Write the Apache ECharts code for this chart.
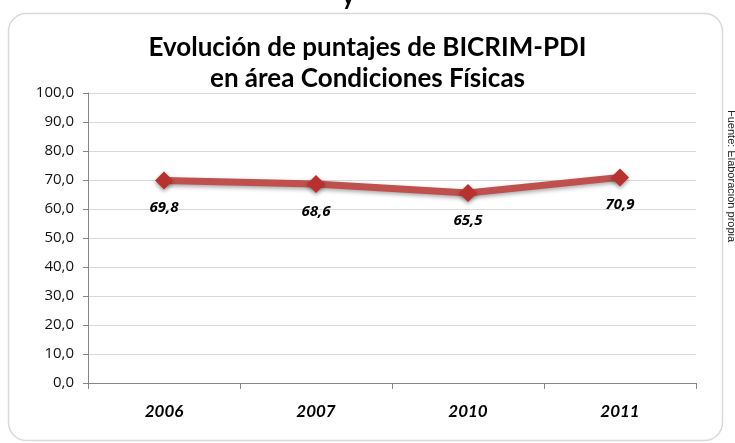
<!DOCTYPE html>
<html>
<head>
<meta charset="utf-8">
<script src="https://cdn.jsdelivr.net/npm/echarts@6/dist/echarts.min.js"></script>
<style>
  html, body { margin: 0; padding: 0; background: #fff; }
  #chart { width: 735px; height: 443px; }
</style>
</head>
<body>
<div id="chart"></div>
<script>
// datos
var years = ['2006', '2007', '2010', '2011'];
var puntajes = [69.8, 68.6, 65.5, 70.9];
var titulo = 'Evolución de puntajes de BICRIM-PDI\nen área Condiciones Físicas';
var fuente = 'Fuente: Elaboración propia';

function coma(v, d) {
    return v.toFixed(d).replace('.', ',');
}

var myChart = echarts.init(document.getElementById('chart'));
var option = {
    backgroundColor: '#fff',
    animation: false,
    title: {
        text: titulo,
        left: 'center',
        top: 27,
        textStyle: {
            fontFamily: 'Lato',
            fontWeight: 'bold',
            fontSize: 26,
            lineHeight: 31,
            color: '#000'
        }
    },
    graphic: [
        {
            type: 'rect',
            shape: { x: 8.5, y: 13.5, width: 714, height: 427, r: 18 },
            style: { fill: 'none', stroke: '#d9d9d9', lineWidth: 1.5 },
            z: -1
        },
        {
            // resto de texto cortado arriba
            type: 'text',
            x: 342,
            y: 9,
            style: {
                text: 'y',
                fontFamily: 'Lato',
                fontWeight: 'bold',
                fontSize: 24,
                verticalAlign: 'bottom',
                fill: '#000'
            }
        },
        {
            type: 'text',
            x: 737,
            y: 110,
            rotation: -Math.PI / 2,
            style: {
                text: fuente,
                fontFamily: 'Liberation Sans',
                fontSize: 11,
                fill: '#222'
            }
        }
    ],
    grid: {
        left: 88,
        right: 39,
        top: 93,
        bottom: 60
    },
    xAxis: {
        type: 'category',
        data: years,
        boundaryGap: true,
        axisLine: { lineStyle: { color: '#868686' } },
        axisTick: { show: true, length: 6, lineStyle: { color: '#868686' } },
        axisLabel: {
            margin: 20,
            fontFamily: 'Lato',
            fontSize: 17,
            fontWeight: 'bold',
            fontStyle: 'italic',
            color: '#000'
        }
    },
    yAxis: {
        type: 'value',
        min: 0,
        max: 100,
        interval: 10,
        axisLine: { show: true, lineStyle: { color: '#868686' } },
        axisTick: { show: true, length: 5, lineStyle: { color: '#868686' } },
        splitLine: { lineStyle: { color: '#d9d9d9' } },
        axisLabel: {
            margin: 14,
            fontFamily: 'Open Sans',
            fontSize: 15,
            color: '#111',
            formatter: function(v) { return coma(v, 1); }
        }
    },
    series: [{
        type: 'line',
        data: puntajes,
        symbol: 'diamond',
        symbolSize: 18,
        lineStyle: {
            color: '#c0504d',
            width: 7,
            shadowColor: 'rgba(0,0,0,0.35)',
            shadowBlur: 4,
            shadowOffsetY: 2
        },
        itemStyle: {
            color: '#b9312e',
            shadowColor: 'rgba(0,0,0,0.4)',
            shadowBlur: 4,
            shadowOffsetY: 2
        },
        label: {
            show: true,
            position: 'bottom',
            distance: 11,
            fontFamily: 'Open Sans',
            fontSize: 15,
            fontWeight: 'bold',
            fontStyle: 'italic',
            color: '#000',
            formatter: function(p) { return coma(p.value, 1); }
        }
    }]
};
myChart.setOption(option);
</script>
</body>
</html>
